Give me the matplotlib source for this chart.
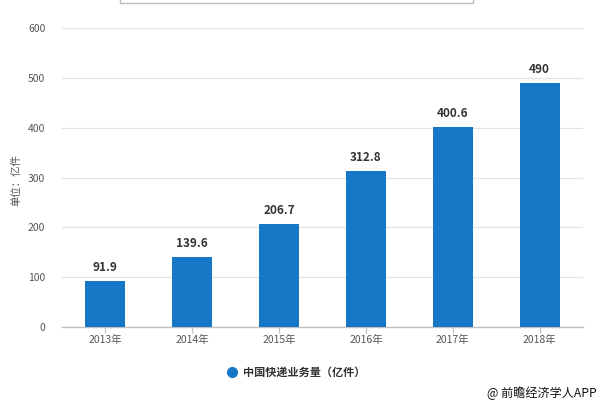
import matplotlib.pyplot as plt
from matplotlib.patches import Rectangle
from matplotlib.lines import Line2D

plt.rcParams['font.family'] = ['Noto Sans CJK SC', 'DejaVu Sans']

years = ['2013年', '2014年', '2015年', '2016年', '2017年', '2018年']
volume = [91.9, 139.6, 206.7, 312.8, 400.6, 490]
value_labels = ['91.9', '139.6', '206.7', '312.8', '400.6', '490']
y_ticks = [0, 100, 200, 300, 400, 500, 600]

bar_color = '#1777c7'

fig = plt.figure(figsize=(6, 4.05), dpi=100)
ax = fig.add_axes([62 / 600, 78 / 405, 521 / 600, 299 / 405])

x = list(range(len(years)))
ax.bar(x, volume, width=0.46, color=bar_color, zorder=3)

for xi, v, lab in zip(x, volume, value_labels):
    ax.annotate(lab, (xi, v), xytext=(0, 5), textcoords='offset points',
                ha='center', va='bottom', fontsize=8.5, fontweight='bold',
                color='#333333')

ax.set_xlim(-0.5, len(years) - 0.5)
ax.set_ylim(0, 600)
ax.set_xticks(x)
ax.set_xticklabels(years, fontsize=7.5, color='#555555')
ax.set_yticks(y_ticks)
ax.set_yticklabels([str(t) for t in y_ticks], fontsize=7.5, color='#555555')
ax.tick_params(axis='y', length=0, pad=12)
ax.tick_params(axis='x', length=4, width=0.8, color='#c0c0c0', pad=2)

ax.grid(axis='y', color='#e3e3e3', linewidth=0.9, zorder=0)
for side in ['top', 'right', 'left']:
    ax.spines[side].set_visible(False)
ax.spines['bottom'].set_color('#c0c0c0')
ax.spines['bottom'].set_linewidth(1)

fig.text(16 / 600, 1 - 180 / 405, '单位：亿件', rotation=90, ha='center',
         va='center', fontsize=7.5, color='#555555')

# title box cut off at the top
fig.patches.append(Rectangle((120 / 600, 1 - 3 / 405), 353 / 600, 24 / 405,
                             transform=fig.transFigure, facecolor='white',
                             edgecolor='#bbbbbb', linewidth=1))

# legend
fig.lines.append(Line2D([232 / 600], [1 - 372 / 405], marker='o', markersize=7,
                        color=bar_color, linestyle='none',
                        transform=fig.transFigure))
fig.text(243 / 600, 1 - 372 / 405, '中国快递业务量（亿件）', ha='left', va='center',
         fontsize=8, fontweight='bold', color='#333333')

fig.text(597 / 600, 1 - 393 / 405, '@ 前瞻经济学人APP', ha='right', va='center',
         fontsize=8.7, color='#111111')

fig.savefig('out.png', dpi=100)
